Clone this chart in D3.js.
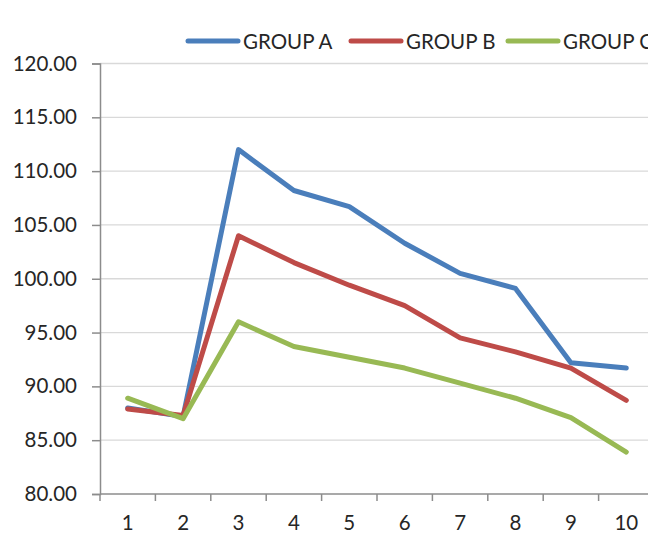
<!DOCTYPE html>
<html>
<head>
<meta charset="utf-8">
<script src="https://cdn.jsdelivr.net/npm/d3@7"></script>
<style>
  html, body { margin: 0; padding: 0; background: #fff; }
  svg { display: block; }
  text { font-family: Lato, "Open Sans", sans-serif; fill: #262626; }
</style>
</head>
<body>
<script>
// Category labels along the x axis
const categories = ["1", "2", "3", "4", "5", "6", "7", "8", "9", "10"];

// Series values
const groupA = [88.0, 87.2, 112.0, 108.2, 106.7, 103.3, 100.5, 99.1, 92.2, 91.7];
const groupB = [87.9, 87.3, 104.0, 101.5, 99.4, 97.5, 94.5, 93.2, 91.7, 88.7];
const groupC = [88.9, 87.0, 96.0, 93.7, 92.7, 91.7, 90.3, 88.9, 87.1, 83.9];

const seriesNames = ["GROUP A", "GROUP B", "GROUP C"];
const seriesColors = ["#4a7ebb", "#be4b48", "#98b954"];

// Y axis tick values
const yTicks = [80, 85, 90, 95, 100, 105, 110, 115, 120];

const series = [groupA, groupB, groupC].map((values, i) => ({
  name: seriesNames[i], color: seriesColors[i], values
}));

const W = 648, H = 533;
const margin = { left: 100, top: 63.5, right: -6, bottom: 39 };

const svg = d3.select("body").append("svg")
  .attr("width", W).attr("height", H);

const x = d3.scaleBand()
  .domain(categories)
  .range([margin.left, W - margin.right]);

const y = d3.scaleLinear()
  .domain([80, 120])
  .range([H - margin.bottom, margin.top]);

// Horizontal gridlines
svg.append("g")
  .selectAll("line")
  .data(yTicks.filter(t => t > 80))
  .join("line")
  .attr("x1", margin.left).attr("x2", W)
  .attr("y1", d => y(d)).attr("y2", d => y(d))
  .attr("stroke", "#d9d9d9").attr("stroke-width", 1.3);

// Y axis
const yAxis = svg.append("g")
  .attr("transform", `translate(${margin.left},0)`)
  .call(d3.axisLeft(y).tickValues(yTicks).tickFormat(d3.format(".2f")).tickSize(8).tickPadding(15));
yAxis.select(".domain").attr("stroke", "#8c8c8c").attr("stroke-width", 1.5);
yAxis.selectAll(".tick line").attr("stroke", "#8c8c8c").attr("stroke-width", 1.5);
yAxis.selectAll(".tick text")
  .style("font-family", "Lato, 'Open Sans', sans-serif")
  .style("font-size", "20.5px").attr("fill", "#262626");

// X axis, with tick marks on category boundaries
const xAxisG = svg.append("g")
  .attr("transform", `translate(0,${y(80)})`);
xAxisG.append("line")
  .attr("x1", margin.left).attr("x2", W)
  .attr("stroke", "#8c8c8c").attr("stroke-width", 1.5);
xAxisG.selectAll("line.tk")
  .data(categories)
  .join("line").attr("class", "tk")
  .attr("x1", d => x(d)).attr("x2", d => x(d))
  .attr("y1", 0).attr("y2", 7)
  .attr("stroke", "#8c8c8c").attr("stroke-width", 1.5);
xAxisG.selectAll("text")
  .data(categories)
  .join("text")
  .attr("x", d => x(d) + x.bandwidth() / 2)
  .attr("y", 36)
  .attr("text-anchor", "middle")
  .style("font-size", "20.5px")
  .text(d => d);

// Lines
const line = d3.line()
  .x((d, i) => x(categories[i]) + x.bandwidth() / 2)
  .y(d => y(d));

svg.append("g")
  .selectAll("path")
  .data(series)
  .join("path")
  .attr("d", d => line(d.values))
  .attr("fill", "none")
  .attr("stroke", d => d.color)
  .attr("stroke-width", 5)
  .attr("stroke-linejoin", "round")
  .attr("stroke-linecap", "round");

// Legend
const legendX = [188, 351, 508];
const legend = svg.append("g");
series.forEach((s, i) => {
  const g = legend.append("g").attr("transform", `translate(${legendX[i]},41)`);
  g.append("line")
    .attr("x1", 0).attr("x2", 50)
    .attr("stroke", s.color).attr("stroke-width", 5)
    .attr("stroke-linecap", "round");
  g.append("text")
    .attr("x", 55).attr("y", 7.5)
    .style("font-size", "20.5px")
    .text(s.name);
});
</script>
</body>
</html>
